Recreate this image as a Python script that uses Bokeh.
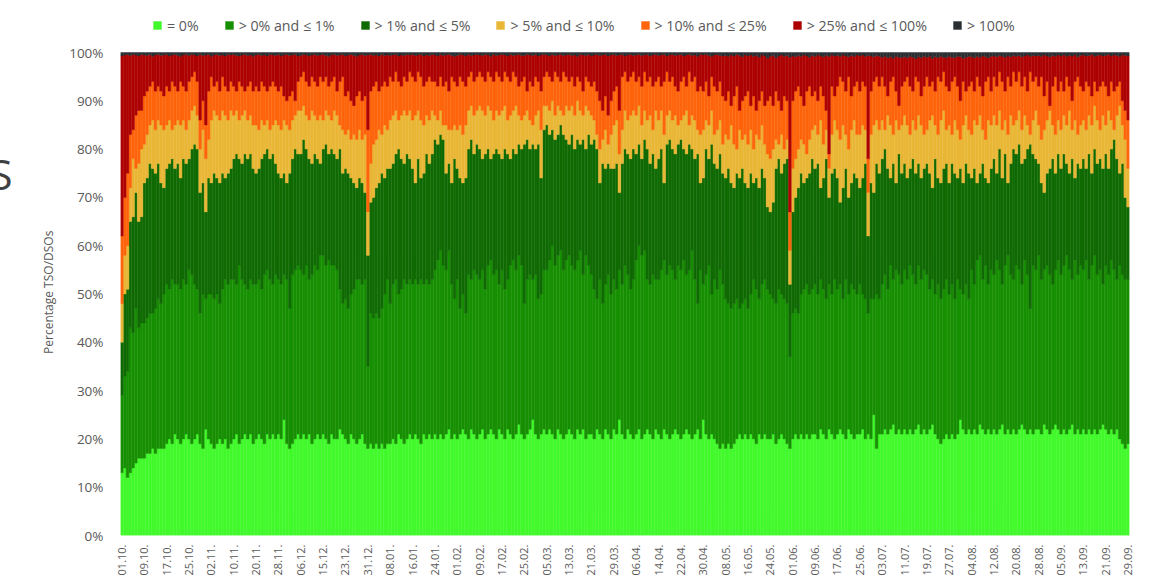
import math
from bokeh.plotting import figure
from bokeh.models import (Range1d, FixedTicker, Legend, LegendItem, LinearAxis,
                          ColumnDataSource)
from bokeh.embed import file_html
from bokeh.resources import INLINE

# ---------------- data ----------------
tick_labels = ["01.10.", "09.10.", "17.10.", "25.10.", "02.11.", "10.11.", "20.11.", "28.11.",
               "06.12.", "15.12.", "23.12.", "31.12.", "08.01.", "16.01.", "24.01.", "01.02.",
               "09.02.", "17.02.", "25.02.", "05.03.", "13.03.", "21.03.", "29.03.", "06.04.",
               "14.04.", "22.04.", "30.04.", "08.05.", "16.05.", "24.05.", "01.06.", "09.06.",
               "17.06.", "25.06.", "03.07.", "11.07.", "19.07.", "27.07.", "04.08.", "12.08.",
               "20.08.", "28.08.", "05.09.", "13.09.", "21.09.", "29.09."]
y_tick_labels = ["0%", "10%", "20%", "30%", "40%", "50%", "60%", "70%", "80%", "90%", "100%"]

series_names = ["= 0%", "> 0% and \u2264 1%", "> 1% and \u2264 5%", "> 5% and \u2264 10%",
                "> 10% and \u2264 25%", "> 25% and \u2264 100%", "> 100%"]
series_colors = ["#41f92b", "#178f02", "#106a03", "#e9b735", "#fe640b", "#ad0000", "#2b2f33"]

# cumulative upper edge (%) of each band, one value per day
top_eq0 = [
    13, 14, 12, 13, 14, 15, 16, 16,
    16, 17, 17, 18, 17, 18, 18, 18,
    19, 20, 19, 21, 20, 19, 20, 21,
    20, 19, 20, 21, 19, 18, 22, 20,
    19, 18, 19, 20, 19, 20, 18, 19,
    20, 21, 19, 20, 21, 20, 21, 19,
    20, 21, 20, 19, 21, 20, 21, 20,
    21, 20, 24, 19, 18, 19, 20, 21,
    20, 21, 20, 21, 19, 20, 21, 20,
    21, 20, 19, 21, 20, 20, 22, 21,
    20, 19, 21, 20, 19, 20, 21, 19,
    18, 19, 18, 19, 18, 19, 18, 19,
    19, 20, 19, 21, 20, 19, 20, 21,
    20, 21, 20, 19, 21, 20, 21, 20,
    21, 20, 21, 20, 21, 22, 20, 21,
    20, 21, 22, 21, 20, 22, 21, 20,
    21, 22, 20, 21, 22, 21, 20, 22,
    21, 20, 22, 21, 20, 21, 23, 21,
    20, 21, 22, 24, 21, 20, 21, 22,
    21, 22, 21, 20, 22, 21, 20, 21,
    22, 21, 20, 22, 21, 22, 20, 21,
    21, 20, 22, 21, 20, 22, 21, 20,
    22, 21, 24, 21, 20, 22, 21, 20,
    21, 22, 20, 21, 22, 21, 20, 22,
    21, 20, 22, 21, 20, 21, 22, 21,
    20, 21, 22, 21, 20, 21, 22, 20,
    24, 21, 20, 21, 20, 19, 18, 19,
    18, 19, 18, 19, 20, 21, 20, 21,
    20, 21, 20, 19, 21, 20, 21, 20,
    20, 21, 19, 20, 21, 20, 19, 18,
    20, 21, 20, 21, 20, 21, 20, 21,
    21, 20, 22, 21, 20, 22, 21, 20,
    21, 22, 21, 20, 22, 21, 20, 21,
    21, 22, 20, 21, 20, 25, 18, 21,
    21, 22, 21, 22, 23, 21, 22, 21,
    22, 21, 22, 21, 22, 23, 21, 22,
    21, 22, 23, 21, 20, 19, 20, 21,
    20, 21, 20, 21, 24, 22, 21, 22,
    21, 22, 21, 23, 22, 21, 22, 21,
    22, 21, 22, 23, 21, 22, 21, 22,
    21, 22, 23, 22, 21, 22, 21, 22,
    22, 21, 23, 22, 21, 22, 23, 22,
    21, 22, 21, 22, 23, 21, 22, 21,
    22, 21, 22, 21, 22, 21, 22, 23,
    22, 21, 22, 21, 22, 20, 19, 18,
    19]

top_le1 = [
    29, 33, 34, 43, 42, 47, 43, 44,
    44, 45, 46, 46, 47, 49, 48, 50,
    52, 51, 53, 52, 52, 51, 53, 52,
    55, 54, 52, 51, 46, 50, 49, 50,
    50, 49, 50, 48, 51, 53, 52, 53,
    53, 52, 56, 53, 52, 51, 53, 52,
    52, 53, 51, 54, 55, 53, 52, 54,
    53, 52, 54, 53, 47, 54, 55, 56,
    55, 54, 56, 53, 54, 56, 55, 58,
    58, 56, 57, 56, 56, 55, 51, 48,
    49, 47, 50, 51, 53, 53, 52, 53,
    35, 46, 45, 46, 45, 47, 50, 53,
    48, 52, 53, 50, 51, 53, 52, 53,
    52, 53, 52, 53, 52, 53, 52, 53,
    55, 57, 59, 56, 55, 59, 52, 49,
    53, 47, 50, 46, 54, 53, 55, 54,
    53, 55, 51, 56, 57, 54, 55, 52,
    55, 51, 53, 56, 57, 55, 58, 56,
    48, 53, 54, 53, 54, 49, 50, 55,
    55, 57, 60, 56, 58, 59, 55, 57,
    58, 56, 55, 57, 59, 54, 58, 56,
    54, 51, 49, 53, 48, 52, 54, 50,
    53, 51, 55, 52, 56, 54, 51, 53,
    57, 60, 58, 59, 53, 52, 54, 53,
    53, 55, 57, 54, 56, 55, 53, 56,
    55, 57, 54, 55, 59, 53, 48, 55,
    52, 54, 56, 50, 53, 51, 55, 52,
    49, 48, 47, 48, 49, 47, 48, 49,
    47, 50, 53, 51, 49, 52, 53, 51,
    50, 49, 48, 51, 50, 49, 48, 37,
    46, 47, 46, 50, 51, 52, 50, 51,
    52, 50, 53, 51, 49, 52, 50, 53,
    51, 52, 49, 53, 50, 52, 51, 50,
    52, 50, 49, 46, 49, 49, 50, 49,
    52, 54, 51, 56, 53, 55, 54, 52,
    55, 53, 56, 54, 52, 56, 53, 55,
    54, 51, 53, 50, 52, 49, 51, 53,
    50, 52, 49, 53, 51, 50, 52, 49,
    55, 52, 57, 58, 53, 56, 52, 55,
    54, 57, 55, 52, 56, 58, 54, 53,
    56, 55, 52, 57, 54, 47, 56, 55,
    58, 53, 55, 56, 54, 52, 55, 57,
    54, 56, 58, 55, 53, 57, 54, 56,
    55, 57, 53, 56, 58, 54, 55, 52,
    56, 54, 57, 55, 53, 56, 54, 53,
    53]

top_le5 = [
    40, 50, 51, 65, 66, 71, 65, 66,
    73, 74, 77, 76, 75, 77, 73, 72,
    76, 77, 78, 76, 77, 74, 78, 77,
    78, 80, 81, 80, 71, 73, 67, 74,
    73, 75, 74, 73, 75, 74, 75, 76,
    78, 79, 78, 77, 79, 78, 79, 76,
    75, 76, 78, 79, 80, 78, 79, 77,
    75, 74, 75, 73, 75, 78, 80, 79,
    79, 82, 80, 78, 77, 79, 78, 77,
    80, 81, 79, 80, 79, 78, 80, 75,
    76, 75, 74, 73, 72, 74, 73, 71,
    58, 69, 70, 72, 73, 75, 74, 76,
    76, 77, 79, 80, 78, 77, 79, 78,
    76, 73, 78, 74, 75, 79, 77, 79,
    82, 81, 83, 82, 75, 77, 73, 78,
    76, 74, 73, 74, 80, 82, 79, 81,
    80, 78, 79, 80, 78, 79, 80, 79,
    78, 80, 79, 78, 80, 79, 81, 80,
    81, 82, 80, 81, 80, 81, 74, 84,
    85, 83, 84, 82, 83, 85, 83, 82,
    81, 83, 80, 82, 81, 82, 80, 83,
    81, 82, 80, 73, 77, 76, 77, 76,
    76, 77, 71, 77, 80, 79, 78, 80,
    79, 81, 78, 82, 80, 77, 79, 76,
    78, 80, 73, 81, 82, 80, 79, 81,
    82, 80, 79, 81, 80, 78, 79, 73,
    74, 80, 78, 81, 77, 76, 79, 75,
    74, 76, 73, 72, 75, 74, 76, 73,
    72, 75, 73, 74, 72, 76, 74, 68,
    67, 69, 76, 78, 75, 77, 78, 52,
    67, 70, 72, 75, 73, 74, 75, 78,
    76, 77, 72, 74, 78, 70, 75, 76,
    74, 69, 72, 76, 70, 73, 75, 74,
    72, 74, 77, 62, 73, 71, 77, 75,
    78, 80, 76, 74, 77, 73, 79, 75,
    77, 74, 76, 78, 75, 77, 74, 76,
    77, 75, 72, 78, 74, 73, 76, 77,
    73, 77, 75, 74, 76, 73, 77, 75,
    74, 76, 73, 75, 77, 74, 73, 76,
    78, 75, 80, 74, 79, 73, 77, 80,
    79, 81, 77, 78, 80, 81, 79, 78,
    77, 73, 71, 75, 76, 78, 75, 79,
    76, 79, 77, 75, 78, 74, 77, 76,
    78, 76, 79, 75, 80, 77, 78, 76,
    79, 76, 80, 82, 78, 75, 77, 70,
    68]

top_le10 = [
    48, 58, 60, 72, 78, 76, 77, 80,
    81, 83, 85, 86, 84, 86, 85, 84,
    85, 86, 84, 85, 86, 85, 86, 84,
    86, 88, 89, 87, 80, 84, 78, 82,
    86, 88, 87, 86, 88, 87, 86, 88,
    87, 88, 86, 87, 88, 86, 87, 85,
    85, 84, 86, 85, 86, 84, 85, 86,
    85, 84, 86, 85, 84, 86, 87, 88,
    88, 89, 87, 86, 88, 87, 86, 87,
    86, 88, 87, 86, 88, 87, 85, 84,
    83, 84, 82, 83, 82, 84, 82, 83,
    67, 77, 81, 82, 84, 83, 85, 84,
    86, 87, 88, 86, 87, 88, 87, 88,
    86, 87, 88, 86, 85, 87, 86, 88,
    87, 86, 88, 85, 85, 84, 84, 85,
    84, 85, 83, 85, 88, 89, 87, 88,
    89, 88, 87, 89, 88, 86, 88, 87,
    88, 89, 86, 87, 88, 89, 87, 86,
    87, 88, 86, 85, 87, 88, 84, 89,
    89, 88, 90, 87, 89, 88, 87, 89,
    88, 89, 87, 90, 88, 87, 89, 88,
    87, 86, 83, 80, 82, 84, 81, 83,
    85, 86, 79, 84, 88, 86, 87, 88,
    87, 89, 85, 88, 86, 87, 84, 88,
    86, 88, 83, 87, 88, 86, 87, 85,
    86, 87, 88, 85, 87, 86, 84, 83,
    84, 86, 85, 88, 83, 84, 86, 81,
    83, 82, 85, 81, 80, 84, 82, 83,
    81, 84, 80, 83, 82, 85, 81, 79,
    78, 80, 82, 81, 83, 80, 82, 59,
    76, 78, 80, 82, 81, 79, 82, 84,
    85, 83, 86, 81, 84, 76, 83, 86,
    84, 82, 85, 83, 80, 84, 86, 83,
    83, 85, 84, 71, 83, 85, 86, 84,
    86, 84, 87, 85, 83, 86, 84, 85,
    87, 85, 83, 86, 84, 87, 85, 83,
    84, 86, 87, 85, 83, 86, 88, 84,
    85, 83, 86, 84, 82, 85, 87, 84,
    83, 86, 85, 87, 84, 82, 86, 85,
    87, 85, 88, 84, 86, 83, 87, 85,
    86, 88, 84, 87, 85, 83, 86, 88,
    85, 82, 84, 86, 88, 85, 83, 86,
    84, 87, 85, 88, 84, 86, 83, 85,
    86, 84, 87, 85, 89, 86, 84, 87,
    85, 88, 86, 84, 87, 89, 85, 82,
    76]

top_le25 = [
    62, 70, 75, 83, 84, 87, 88, 88,
    91, 92, 93, 94, 92, 93, 92, 91,
    93, 92, 94, 93, 92, 94, 93, 92,
    94, 95, 96, 94, 86, 90, 85, 92,
    95, 93, 94, 92, 95, 93, 92, 94,
    93, 92, 94, 93, 92, 93, 94, 92,
    93, 92, 94, 93, 92, 93, 94, 93,
    92, 93, 91, 90, 91, 92, 90, 94,
    95, 96, 94, 93, 95, 94, 93, 95,
    94, 95, 93, 94, 95, 92, 94, 95,
    91, 92, 90, 89, 91, 92, 90, 91,
    84, 92, 93, 94, 92, 93, 94, 93,
    95, 94, 96, 94, 93, 95, 94, 96,
    95, 94, 96, 95, 93, 94, 95, 94,
    94, 93, 95, 93, 94, 92, 95, 94,
    93, 95, 94, 93, 95, 96, 94, 95,
    96, 95, 94, 96, 95, 94, 96, 95,
    94, 96, 95, 94, 96, 95, 93, 94,
    95, 92, 94, 93, 95, 94, 92, 95,
    96, 95, 94, 96, 95, 94, 96, 95,
    94, 95, 93, 95, 94, 92, 95, 94,
    93, 94, 92, 90, 88, 91, 87, 90,
    92, 93, 88, 95, 96, 94, 95, 96,
    94, 95, 93, 96, 94, 95, 93, 94,
    95, 93, 94, 96, 94, 95, 93, 92,
    94, 95, 93, 96, 94, 95, 92, 93,
    92, 94, 91, 95, 93, 92, 94, 91,
    90, 92, 89, 91, 93, 88, 90, 91,
    92, 89, 91, 88, 90, 92, 89, 90,
    91, 89, 92, 90, 88, 91, 90, 67,
    90, 92, 93, 91, 89, 92, 93, 91,
    92, 90, 93, 91, 88, 79, 93, 91,
    93, 95, 94, 92, 95, 91, 93, 94,
    92, 94, 93, 78, 92, 94, 95, 93,
    95, 93, 91, 94, 95, 92, 89, 93,
    94, 95, 93, 92, 95, 94, 91, 93,
    95, 93, 94, 92, 95, 94, 96, 93,
    92, 94, 95, 93, 90, 94, 92, 93,
    94, 92, 95, 93, 91, 94, 95, 92,
    95, 93, 96, 94, 92, 95, 93, 96,
    94, 96, 93, 95, 92, 96, 94, 95,
    93, 95, 91, 94, 89, 93, 95, 92,
    94, 92, 95, 93, 90, 94, 95, 93,
    92, 94, 93, 91, 94, 92, 93, 94,
    93, 91, 94, 92, 93, 94, 90, 88,
    86]

top_le100 = [
    99.3, 99.5, 99.6, 99.4, 99.6, 99.5, 99.3, 99.6,
    99.5, 99.4, 99.6, 99.2, 99.5, 99.6, 99.4, 99.5,
    99.6, 99.3, 99.5, 99.6, 99.4, 99.2, 99.5, 99.6,
    99.4, 99.6, 99.5, 99.3, 99.6, 99.4, 99.5, 99.6,
    99.2, 99.5, 99.6, 99.4, 99.5, 99.3, 99.6, 99.5,
    99.6, 99.4, 99.3, 99.5, 99.6, 99.4, 99.5, 99.2,
    99.5, 99.6, 99.4, 99.5, 99.3, 99.6, 99.5, 99.4,
    99.6, 99.3, 99.5, 99.6, 99.4, 99.5, 99.6, 99.3,
    99.4, 99.6, 99.5, 99.3, 99.5, 99.6, 99.4, 99.5,
    99.6, 99.4, 99.2, 99.5, 99.6, 99.4, 99.5, 99.6,
    99.3, 99.5, 99.6, 99.4, 99.2, 99.5, 99.6, 99.4,
    99.5, 99.6, 99.4, 99.5, 99.3, 99.6, 99.4, 99.5,
    99.4, 99.5, 99.6, 99.3, 99.5, 99.4, 99.6, 99.5,
    99.6, 99.4, 99.5, 99.6, 99.3, 99.5, 99.4, 99.6,
    99.5, 99.3, 99.6, 99.4, 99.5, 99.6, 99.4, 99.2,
    99.4, 99.6, 99.5, 99.3, 99.6, 99.4, 99.5, 99.6,
    99.5, 99.4, 99.6, 99.5, 99.2, 99.6, 99.4, 99.5,
    99.6, 99.5, 99.3, 99.6, 99.4, 99.5, 99.6, 99.4,
    99.4, 99.6, 99.5, 99.4, 99.6, 99.3, 99.5, 99.6,
    99.5, 99.3, 99.6, 99.4, 99.5, 99.6, 99.4, 99.5,
    99.6, 99.4, 99.5, 99.2, 99.6, 99.5, 99.4, 99.6,
    99.3, 99.5, 99.6, 99.4, 99.5, 99.6, 99.3, 99.5,
    99.6, 99.4, 99.5, 99.6, 99.3, 99.5, 99.6, 99.4,
    99.5, 99.6, 99.4, 99.5, 99.6, 99.3, 99.5, 99.6,
    99.4, 99.5, 99.6, 99.3, 99.5, 99.6, 99.4, 99.5,
    99.6, 99.3, 99.5, 99.6, 99.4, 99.5, 99.2, 99.6,
    99.5, 99.6, 99.4, 99.2, 99.5, 99.6, 99.4, 99.3,
    99.4, 99.2, 99.5, 99.3, 99.6, 99.4, 99.1, 99.5,
    99.3, 99.5, 99.2, 99.4, 99.0, 99.5, 99.3, 98.8,
    99.2, 99.4, 98.9, 99.3, 99.5, 99.2, 99.4, 99.0,
    99.3, 99.1, 99.4, 99.2, 99.5, 99.3, 99.0, 99.4,
    99.2, 99.5, 99.3, 99.1, 99.4, 99.2, 99.5, 99.3,
    99.4, 99.2, 99.5, 99.3, 99.1, 99.4, 99.2, 99.5,
    99.3, 99.5, 99.2, 99.4, 99.3, 99.1, 99.4, 99.2,
    99.0, 99.2, 98.9, 99.1, 98.8, 99.2, 99.0, 98.9,
    99.1, 98.9, 99.2, 99.0, 98.7, 99.1, 98.9, 99.2,
    99.0, 99.2, 98.8, 99.1, 98.9, 99.2, 99.0, 98.9,
    99.2, 99.0, 98.9, 99.2, 99.1, 98.8, 99.0, 99.2,
    99.1, 98.9, 99.2, 99.0, 99.3, 99.1, 98.9, 99.2,
    99.3, 99.1, 99.4, 99.2, 99.0, 99.3, 99.1, 99.4,
    99.2, 99.4, 99.1, 99.3, 99.5, 99.2, 99.4, 99.3,
    99.4, 99.2, 99.5, 99.3, 99.1, 99.4, 99.2, 99.5,
    99.3, 99.5, 99.2, 99.4, 99.3, 99.5, 99.1, 99.4,
    99.5, 99.3, 99.4, 99.6, 99.2, 99.4, 99.5, 99.3,
    99.4, 99.6, 99.3, 99.5, 99.4, 99.2, 99.5, 99.4,
    99.3]

# ---------------- figure ----------------
uppers = [top_eq0, top_le1, top_le5, top_le10, top_le25, top_le100]
n = min(len(s) for s in uppers)
days = list(range(n))
bounds = [[0.0] * n] + [list(s[:n]) for s in uppers] + [[100.0] * n]

SHIFT = 30          # canvas is shifted left so that the cut slide title can bleed off the edge
FRAME_TOP = 8       # frame extends above 100 % to host the legend
Y_MAX = 100.0 * (535 - FRAME_TOP) / (535 - 52)

p = figure(width=1150 + SHIFT, height=582, output_backend="svg", toolbar_location=None,
           x_range=Range1d(-0.5, n - 0.5), y_range=Range1d(0, Y_MAX),
           min_border_left=120 + SHIFT, min_border_right=21,
           min_border_top=FRAME_TOP, min_border_bottom=47)
p.styles = {"margin-left": f"-{SHIFT}px"}
p.background_fill_color = "white"
p.border_fill_color = "white"
p.outline_line_color = None
p.xgrid.visible = False
p.ygrid.visible = False

items = []
for j, (name, col) in enumerate(zip(series_names, series_colors)):
    src = ColumnDataSource(dict(x=days, bottom=bounds[j], top=bounds[j + 1]))
    r = p.vbar(x="x", width=1.0, bottom="bottom", top="top", source=src,
               fill_color=col, line_color=col, line_width=0.4)
    items.append(LegendItem(label=name, renderers=[r]))

# axes
xa = p.xaxis[0]
xa.ticker = FixedTicker(ticks=[i * 8 for i in range(len(tick_labels))])
xa.major_label_overrides = {i * 8: lab for i, lab in enumerate(tick_labels)}
xa.major_label_orientation = math.pi / 2
xa.major_label_standoff = 3
xa.major_label_text_font = "Open Sans"
xa.major_label_text_font_size = "11px"
xa.major_label_text_color = "#595959"
xa.axis_line_color = None
xa.major_tick_line_color = None
xa.minor_tick_line_color = None

ya = p.yaxis[0]
ya.ticker = FixedTicker(ticks=[i * 10 for i in range(len(y_tick_labels))])
ya.major_label_overrides = {i * 10: lab for i, lab in enumerate(y_tick_labels)}
ya.major_label_standoff = 11
ya.major_label_text_font = "Open Sans"
ya.major_label_text_font_size = "13.5px"
ya.major_label_text_color = "#595959"
ya.axis_line_color = None
ya.major_tick_line_color = None
ya.minor_tick_line_color = None
# trailing no-break spaces move the visible title down to the 0-100 % span
ya.axis_label = "Percentage TSO/DSOs" + "\u00a0" * 13
ya.axis_label_text_font = "Open Sans"
ya.axis_label_text_font_size = "12px"
ya.axis_label_text_font_style = "normal"
ya.axis_label_text_color = "#595959"
ya.axis_label_standoff = 9

# fragment of the slide title, cut by the left edge
sa = LinearAxis(ticker=FixedTicker(ticks=[75]), major_label_overrides={75: "S"},
                major_label_text_font="Open Sans", major_label_text_font_size="42px",
                major_label_text_color="#404040", major_label_standoff=19,
                axis_line_color=None, major_tick_line_color=None, minor_tick_line_color=None)
p.add_layout(sa, "left")

legend = Legend(items=items, orientation="horizontal", location=(32, 500),
                glyph_width=10, glyph_height=10, label_standoff=5, spacing=25,
                padding=0, margin=0, label_text_font="Open Sans",
                label_text_font_size="14.2px", label_text_color="#595959",
                label_height=20, border_line_alpha=0, background_fill_alpha=0)
p.add_layout(legend, "center")

open("out.html", "w").write(file_html(p, INLINE))
